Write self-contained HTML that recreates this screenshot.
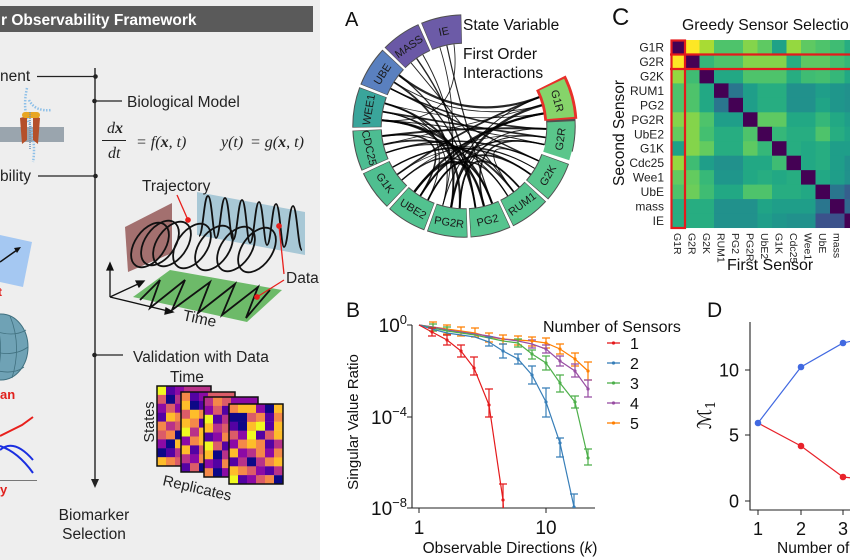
<!DOCTYPE html>
<html><head><meta charset="utf-8"><style>
html,body{margin:0;padding:0;background:#fff;}
svg{display:block;}
text{font-family:"Liberation Sans",Arial,sans-serif;}
</style></head><body>
<svg width="850" height="560" viewBox="0 0 850 560" xmlns="http://www.w3.org/2000/svg">
<defs>
<clipPath id="cb"><rect x="412" y="316" width="190" height="192"/></clipPath>
<clipPath id="cl"><rect x="0" y="0" width="320" height="560"/></clipPath>
</defs>
<rect width="850" height="560" fill="#fff"/>

<!-- ================= LEFT PANEL ================= -->
<g clip-path="url(#cl)">
<rect x="0" y="0" width="320" height="560" fill="#eeeeee"/>
<rect x="0" y="6" width="313" height="26" fill="#5a5a5a"/>
<text x="1" y="25" font-size="15.5" font-weight="bold" fill="#fff">r Observability Framework</text>

<!-- timeline -->
<line x1="95" y1="68" x2="95" y2="480" stroke="#222" stroke-width="1.4"/>
<path d="M91 479 L99 479 L95 488 Z" fill="#222"/>
<line x1="37" y1="76.5" x2="95" y2="76.5" stroke="#222" stroke-width="1.3"/>
<circle cx="95.5" cy="76.5" r="2.3" fill="#222"/>
<text x="0" y="81" font-size="15.5" fill="#222">nent</text>
<line x1="95" y1="101" x2="122" y2="101" stroke="#222" stroke-width="1.3"/>
<circle cx="94.5" cy="101" r="2.3" fill="#222"/>
<text x="127" y="107" font-size="15.5" fill="#222">Biological Model</text>
<line x1="38" y1="176" x2="95" y2="176" stroke="#222" stroke-width="1.3"/>
<circle cx="95.5" cy="176" r="2.3" fill="#222"/>
<text x="0" y="181" font-size="15.5" fill="#222">bility</text>
<line x1="95" y1="355" x2="123" y2="355" stroke="#222" stroke-width="1.3"/>
<circle cx="94.5" cy="355" r="2.3" fill="#222"/>
<text x="133" y="362" font-size="15.5" fill="#222">Validation with Data</text>
<text x="94" y="520" font-size="15.5" fill="#222" text-anchor="middle">Biomarker</text>
<text x="94" y="539" font-size="15.5" fill="#222" text-anchor="middle">Selection</text>

<!-- equation -->
<g font-style="italic" font-size="16" fill="#222">
<text x="107" y="133" style="font-family:'Liberation Serif',serif">d<tspan font-weight="bold">x</tspan></text>
<text x="108" y="158" style="font-family:'Liberation Serif',serif">dt</text>
<text x="136" y="147" style="font-family:'Liberation Serif',serif">= f(<tspan font-weight="bold">x</tspan>, t)</text>
<text x="221" y="147" style="font-family:'Liberation Serif',serif">y(t)</text>
<text x="250" y="147" style="font-family:'Liberation Serif',serif">= g(<tspan font-weight="bold">x</tspan>, t)</text>
</g>
<line x1="102" y1="140.5" x2="126" y2="140.5" stroke="#222" stroke-width="1"/>

<!-- membrane & protein -->
<rect x="0" y="127" width="64" height="15" fill="#9aa5ae"/>
<path d="M27 88 Q22 110 30 125 Q36 145 33 162" fill="none" stroke="#8ec0e8" stroke-width="2.5" stroke-dasharray="1.5 1.5"/>
<path d="M29 100 Q35 112 52 110" fill="none" stroke="#8ec0e8" stroke-width="2.5" stroke-dasharray="1.5 1.5"/>
<path d="M20 118 L27 116 L27 140 L22 144 Z" fill="#b5502a"/>
<path d="M33 116 L40 118 L38 144 L33 140 Z" fill="#b5502a"/>
<rect x="22" y="112" width="18" height="6" rx="3" fill="#e8a623"/>
<path d="M30 112 L30 150" stroke="#6a8fb5" stroke-width="1.5" stroke-dasharray="1 1"/>

<!-- blue square -->
<path d="M0 235 L32 242 L23 287 L0 282 Z" fill="#a5c8f2"/>
<line x1="0" y1="262" x2="17" y2="250" stroke="#111" stroke-width="1.5"/>
<path d="M21 247 L14 248 L17 253 Z" fill="#111"/>
<text x="-2" y="296" font-size="12" font-weight="bold" fill="#e0201c">t</text>

<!-- sphere -->
<ellipse cx="1" cy="347" rx="27" ry="33" fill="#6fa2b5" stroke="#40707f" stroke-width="1"/>
<path d="M-20 325 Q10 340 26 330 M-20 347 Q10 360 28 347 M-20 365 Q10 378 24 367 M10 316 Q22 345 12 378 M-6 314 Q6 345 -4 380" fill="none" stroke="#40707f" stroke-width="0.8"/>
<text x="0" y="399" font-size="13" font-weight="bold" fill="#e0201c">an</text>

<!-- curves -->
<path d="M0 436 L12 430 L22 425 L33 417" fill="none" stroke="#e8201c" stroke-width="2"/>
<path d="M0 450 Q14 438 33 460" fill="none" stroke="#1a2ee0" stroke-width="2"/>
<path d="M0 446 Q18 452 33 473" fill="none" stroke="#1a2ee0" stroke-width="2"/>
<line x1="0" y1="480.5" x2="37" y2="480.5" stroke="#777" stroke-width="1"/>
<text x="0" y="494" font-size="13" font-weight="bold" fill="#e0201c">y</text>

<!-- trajectory figure -->
<path d="M125 227 L172 203 L172 253 L128 272 Z" fill="#a3706f"/>
<path d="M197 192 L305 212 L305 255 L197 235 Z" fill="#a8c8d6"/>
<path d="M133 297 L170 270 L282 290 L247 322 Z" fill="#6dba69"/>
<path d="M199 236 C203 236,204 195,208 196 C212 196,213 238,216 238 C220 238,221 198,225 198 C229 198,230 240,233 240 C237 240,238 200,242 200 C246 200,247 243,250 243 C254 243,255 202,259 202 C263 202,264 245,267 245 C271 245,272 204,276 204 C280 204,281 247,284 247 C288 247,289 206,293 206 C297 206,298 250,302 250" fill="none" stroke="#111" stroke-width="1.8"/>
<polyline points="140,300 160,280 150,308 185,280 172,310 210,282 198,313 235,284 222,315 258,287 246,318 270,290" fill="none" stroke="#111" stroke-width="1.8"/>
<g fill="none" stroke="#111" stroke-width="1.8">
<ellipse cx="150" cy="245" rx="15" ry="25" transform="rotate(35 150 245)"/>
<ellipse cx="160" cy="243" rx="15" ry="25" transform="rotate(35 160 243)"/>
<ellipse cx="172" cy="244" rx="15" ry="25" transform="rotate(35 172 244)"/>
<ellipse cx="192" cy="246" rx="15" ry="25" transform="rotate(35 192 246)"/>
<ellipse cx="214" cy="248" rx="15" ry="25" transform="rotate(35 214 248)"/>
<ellipse cx="236" cy="249" rx="15" ry="25" transform="rotate(35 236 249)"/>
<ellipse cx="257" cy="250" rx="15" ry="25" transform="rotate(35 257 250)"/>
</g>
<g stroke="#111" stroke-width="1.3" fill="#111">
<line x1="110" y1="297" x2="110" y2="268"/><path d="M107 270 L113 270 L110 263 Z"/>
<line x1="110" y1="297" x2="138" y2="284"/><path d="M136 281 L139 287 L144 281 Z"/>
<line x1="110" y1="297" x2="168" y2="311"/><path d="M166 308 L165 314 L173 312 Z"/>
</g>
<text x="0" y="0" font-size="15.5" fill="#222" transform="translate(182 320) rotate(12)">Time</text>
<text x="142" y="191" font-size="15.5" fill="#222">Trajectory</text>
<text x="286" y="283" font-size="15.5" fill="#222">Data</text>
<g stroke="#e8201c" stroke-width="1.3" fill="#e8201c">
<line x1="177" y1="195" x2="188" y2="220"/><circle cx="188" cy="220" r="2.2"/>
<line x1="284" y1="274" x2="279" y2="226"/><circle cx="279" cy="226" r="2.2"/>
<line x1="284" y1="280" x2="257" y2="297"/><circle cx="257" cy="297" r="2.2"/>
</g>

<!-- heatmaps -->
<text x="170" y="382" font-size="15.5" fill="#222">Time</text>
<text x="0" y="0" font-size="14.5" fill="#222" text-anchor="middle" transform="translate(154 422) rotate(-90)">States</text>
<text x="0" y="0" font-size="15" fill="#222" transform="translate(162 485) rotate(13)">Replicates</text>

<g transform="translate(157 386)">
<rect width="54" height="80" fill="#b83289"/>
<rect x="0" y="0" width="9" height="9" fill="#f0f921"/><rect x="9" y="0" width="9" height="9" fill="#5302a3"/><rect x="18" y="0" width="9" height="9" fill="#8b0aa5"/>
<rect x="0" y="8.9" width="9" height="9" fill="#db5c68"/><rect x="9" y="8.9" width="9" height="9" fill="#0d0887"/><rect x="18" y="8.9" width="9" height="9" fill="#b83289"/>
<rect x="0" y="17.8" width="9" height="9" fill="#8b0aa5"/><rect x="9" y="17.8" width="9" height="9" fill="#db5c68"/><rect x="18" y="17.8" width="9" height="9" fill="#8b0aa5"/>
<rect x="0" y="26.7" width="9" height="9" fill="#5302a3"/><rect x="9" y="26.7" width="9" height="9" fill="#febd2a"/><rect x="18" y="26.7" width="9" height="9" fill="#f48849"/>
<rect x="0" y="35.6" width="9" height="9" fill="#f48849"/><rect x="9" y="35.6" width="9" height="9" fill="#b83289"/><rect x="18" y="35.6" width="9" height="9" fill="#db5c68"/>
<rect x="0" y="44.5" width="9" height="9" fill="#db5c68"/><rect x="9" y="44.5" width="9" height="9" fill="#f48849"/><rect x="18" y="44.5" width="9" height="9" fill="#0d0887"/>
<rect x="0" y="53.4" width="9" height="9" fill="#8b0aa5"/><rect x="9" y="53.4" width="9" height="9" fill="#0d0887"/><rect x="18" y="53.4" width="9" height="9" fill="#febd2a"/>
<rect x="0" y="62.3" width="9" height="9" fill="#0d0887"/><rect x="9" y="62.3" width="9" height="9" fill="#5302a3"/><rect x="18" y="62.3" width="9" height="9" fill="#b83289"/>
<rect x="0" y="71.2" width="9" height="8.8" fill="#febd2a"/><rect x="9" y="71.2" width="9" height="8.8" fill="#f48849"/><rect x="18" y="71.2" width="9" height="8.8" fill="#db5c68"/>
<rect width="54" height="80" fill="none" stroke="#111" stroke-width="1.5"/>
</g>

<g transform="translate(181 392)">
<rect width="54" height="80" fill="#db5c68"/>
<rect x="0" y="0" width="9" height="9" fill="#f48849"/><rect x="9" y="0" width="9" height="9" fill="#5302a3"/><rect x="18" y="0" width="9" height="9" fill="#8b0aa5"/>
<rect x="0" y="8.9" width="9" height="9" fill="#febd2a"/><rect x="9" y="8.9" width="9" height="9" fill="#0d0887"/><rect x="18" y="8.9" width="9" height="9" fill="#5302a3"/>
<rect x="0" y="17.8" width="9" height="9" fill="#db5c68"/><rect x="9" y="17.8" width="9" height="9" fill="#febd2a"/><rect x="18" y="17.8" width="9" height="9" fill="#f48849"/>
<rect x="0" y="26.7" width="9" height="9" fill="#febd2a"/><rect x="9" y="26.7" width="9" height="9" fill="#f48849"/><rect x="18" y="26.7" width="9" height="9" fill="#5302a3"/>
<rect x="0" y="35.6" width="9" height="9" fill="#f0f921"/><rect x="9" y="35.6" width="9" height="9" fill="#b83289"/><rect x="18" y="35.6" width="9" height="9" fill="#febd2a"/>
<rect x="0" y="44.5" width="9" height="9" fill="#8b0aa5"/><rect x="9" y="44.5" width="9" height="9" fill="#f48849"/><rect x="18" y="44.5" width="9" height="9" fill="#febd2a"/>
<rect x="0" y="53.4" width="9" height="9" fill="#febd2a"/><rect x="9" y="53.4" width="9" height="9" fill="#5302a3"/><rect x="18" y="53.4" width="9" height="9" fill="#db5c68"/>
<rect x="0" y="62.3" width="9" height="9" fill="#b83289"/><rect x="9" y="62.3" width="9" height="9" fill="#8b0aa5"/><rect x="18" y="62.3" width="9" height="9" fill="#f48849"/>
<rect x="0" y="71.2" width="9" height="8.8" fill="#5302a3"/><rect x="9" y="71.2" width="9" height="8.8" fill="#db5c68"/><rect x="18" y="71.2" width="9" height="8.8" fill="#0d0887"/>
<rect width="54" height="80" fill="none" stroke="#111" stroke-width="1.5"/>
</g>

<g transform="translate(204 397)">
<rect width="54" height="80" fill="#8b0aa5"/>
<rect x="0" y="0" width="9" height="9" fill="#b83289"/><rect x="9" y="0" width="9" height="9" fill="#f48849"/><rect x="18" y="0" width="9" height="9" fill="#db5c68"/>
<rect x="0" y="8.9" width="9" height="9" fill="#8b0aa5"/><rect x="9" y="8.9" width="9" height="9" fill="#db5c68"/><rect x="18" y="8.9" width="9" height="9" fill="#5302a3"/>
<rect x="0" y="17.8" width="9" height="9" fill="#f0f921"/><rect x="9" y="17.8" width="9" height="9" fill="#5302a3"/><rect x="18" y="17.8" width="9" height="9" fill="#b83289"/>
<rect x="0" y="26.7" width="9" height="9" fill="#febd2a"/><rect x="9" y="26.7" width="9" height="9" fill="#b83289"/><rect x="18" y="26.7" width="9" height="9" fill="#db5c68"/>
<rect x="0" y="35.6" width="9" height="9" fill="#5302a3"/><rect x="9" y="35.6" width="9" height="9" fill="#8b0aa5"/><rect x="18" y="35.6" width="9" height="9" fill="#f48849"/>
<rect x="0" y="44.5" width="9" height="9" fill="#f0f921"/><rect x="9" y="44.5" width="9" height="9" fill="#db5c68"/><rect x="18" y="44.5" width="9" height="9" fill="#5302a3"/>
<rect x="0" y="53.4" width="9" height="9" fill="#febd2a"/><rect x="9" y="53.4" width="9" height="9" fill="#0d0887"/><rect x="18" y="53.4" width="9" height="9" fill="#b83289"/>
<rect x="0" y="62.3" width="9" height="9" fill="#8b0aa5"/><rect x="9" y="62.3" width="9" height="9" fill="#5302a3"/><rect x="18" y="62.3" width="9" height="9" fill="#f48849"/>
<rect x="0" y="71.2" width="9" height="8.8" fill="#f48849"/><rect x="9" y="71.2" width="9" height="8.8" fill="#0d0887"/><rect x="18" y="71.2" width="9" height="8.8" fill="#8b0aa5"/>
<rect width="54" height="80" fill="none" stroke="#111" stroke-width="1.5"/>
</g>

<g transform="translate(229 404)">
<rect x="0" y="0" width="9" height="9" fill="#f48849"/><rect x="9" y="0" width="9" height="9" fill="#febd2a"/><rect x="18" y="0" width="9" height="9" fill="#febd2a"/><rect x="27" y="0" width="9" height="9" fill="#8b0aa5"/><rect x="36" y="0" width="9" height="9" fill="#0d0887"/><rect x="45" y="0" width="9" height="9" fill="#febd2a"/>
<rect x="0" y="8.9" width="9" height="9" fill="#0d0887"/><rect x="9" y="8.9" width="9" height="9" fill="#0d0887"/><rect x="18" y="8.9" width="9" height="9" fill="#db5c68"/><rect x="27" y="8.9" width="9" height="9" fill="#f48849"/><rect x="36" y="8.9" width="9" height="9" fill="#5302a3"/><rect x="45" y="8.9" width="9" height="9" fill="#f48849"/>
<rect x="0" y="17.8" width="9" height="9" fill="#5302a3"/><rect x="9" y="17.8" width="9" height="9" fill="#0d0887"/><rect x="18" y="17.8" width="9" height="9" fill="#febd2a"/><rect x="27" y="17.8" width="9" height="9" fill="#f0f921"/><rect x="36" y="17.8" width="9" height="9" fill="#5302a3"/><rect x="45" y="17.8" width="9" height="9" fill="#febd2a"/>
<rect x="0" y="26.7" width="9" height="9" fill="#db5c68"/><rect x="9" y="26.7" width="9" height="9" fill="#8b0aa5"/><rect x="18" y="26.7" width="9" height="9" fill="#f0f921"/><rect x="27" y="26.7" width="9" height="9" fill="#5302a3"/><rect x="36" y="26.7" width="9" height="9" fill="#db5c68"/><rect x="45" y="26.7" width="9" height="9" fill="#febd2a"/>
<rect x="0" y="35.6" width="9" height="9" fill="#8b0aa5"/><rect x="9" y="35.6" width="9" height="9" fill="#f48849"/><rect x="18" y="35.6" width="9" height="9" fill="#febd2a"/><rect x="27" y="35.6" width="9" height="9" fill="#f48849"/><rect x="36" y="35.6" width="9" height="9" fill="#5302a3"/><rect x="45" y="35.6" width="9" height="9" fill="#b83289"/>
<rect x="0" y="44.5" width="9" height="9" fill="#febd2a"/><rect x="9" y="44.5" width="9" height="9" fill="#8b0aa5"/><rect x="18" y="44.5" width="9" height="9" fill="#b83289"/><rect x="27" y="44.5" width="9" height="9" fill="#f48849"/><rect x="36" y="44.5" width="9" height="9" fill="#8b0aa5"/><rect x="45" y="44.5" width="9" height="9" fill="#f48849"/>
<rect x="0" y="53.4" width="9" height="9" fill="#5302a3"/><rect x="9" y="53.4" width="9" height="9" fill="#b83289"/><rect x="18" y="53.4" width="9" height="9" fill="#0d0887"/><rect x="27" y="53.4" width="9" height="9" fill="#b83289"/><rect x="36" y="53.4" width="9" height="9" fill="#f48849"/><rect x="45" y="53.4" width="9" height="9" fill="#febd2a"/>
<rect x="0" y="62.3" width="9" height="9" fill="#febd2a"/><rect x="9" y="62.3" width="9" height="9" fill="#f48849"/><rect x="18" y="62.3" width="9" height="9" fill="#db5c68"/><rect x="27" y="62.3" width="9" height="9" fill="#8b0aa5"/><rect x="36" y="62.3" width="9" height="9" fill="#5302a3"/><rect x="45" y="62.3" width="9" height="9" fill="#b83289"/>
<rect x="0" y="71.2" width="9" height="8.8" fill="#f0f921"/><rect x="9" y="71.2" width="9" height="8.8" fill="#5302a3"/><rect x="18" y="71.2" width="9" height="8.8" fill="#8b0aa5"/><rect x="27" y="71.2" width="9" height="8.8" fill="#db5c68"/><rect x="36" y="71.2" width="9" height="8.8" fill="#f48849"/><rect x="45" y="71.2" width="9" height="8.8" fill="#0d0887"/>
<rect width="54" height="80" fill="none" stroke="#111" stroke-width="1.5"/>
</g>
</g>

<!-- ================= PANEL A ================= -->
<text x="345" y="26" font-size="20" fill="#111">A</text>
<text x="463" y="30" font-size="15.5" fill="#111">State Variable</text>
<text x="463" y="59" font-size="15.5" fill="#111">First Order</text>
<text x="463" y="78" font-size="15.5" fill="#111">Interactions</text>

<g fill="none" stroke="#000" stroke-opacity="0.85" stroke-linecap="round">
<path d="M399.4 75.5Q464 126 540.6 96.6" stroke-width="2.2"/>
<path d="M394.5 82.5Q464 126 543.2 104.8" stroke-width="1"/>
<path d="M390.9 88.8Q464 126 545.9 128.9" stroke-width="1.6"/>
<path d="M385.2 103.4Q464 126 545 113.2" stroke-width="0.8"/>
<path d="M383.2 111.7Q464 126 545.2 137.4" stroke-width="1.8"/>
<path d="M382.2 120.3Q464 126 543.9 144.5" stroke-width="1"/>
<path d="M382.6 136Q464 126 545.9 128.9" stroke-width="2"/>
<path d="M384.1 144.5Q464 126 543.2 104.8" stroke-width="0.8"/>
<path d="M386.4 152.7Q464 126 538.3 160.7" stroke-width="1.5"/>
<path d="M393 167Q464 126 534.3 168.2" stroke-width="1"/>
<path d="M397.7 174.2Q464 126 540.6 96.6" stroke-width="1.8"/>
<path d="M402.1 179.8Q464 126 545.2 137.4" stroke-width="0.8"/>
<path d="M414.6 191.5Q464 126 545 113.2" stroke-width="2.2"/>
<path d="M420.5 195.5Q464 126 543.9 144.5" stroke-width="1.2"/>
<path d="M428.1 199.7Q464 126 530.3 174.2" stroke-width="1.8"/>
<path d="M442.8 205.2Q464 126 540.6 96.6" stroke-width="1"/>
<path d="M451.2 207Q464 126 543.2 104.8" stroke-width="2.4"/>
<path d="M459.7 207.9Q464 126 545.9 128.9" stroke-width="1"/>
<path d="M475.4 207.2Q464 126 385.2 103.4" stroke-width="2"/>
<path d="M483.8 205.6Q464 126 383.2 111.7" stroke-width="1"/>
<path d="M492 203.1Q464 126 382.2 120.3" stroke-width="2.2"/>
<path d="M507.5 195.5Q464 126 382.6 136" stroke-width="1"/>
<path d="M513.4 191.5Q464 126 384.1 144.5" stroke-width="1.8"/>
<path d="M518.9 186.9Q464 126 386.4 152.7" stroke-width="1"/>
<path d="M530.3 174.2Q464 126 393 167" stroke-width="1.5"/>
<path d="M534.3 168.2Q464 126 397.7 174.2" stroke-width="0.8"/>
<path d="M538.3 160.7Q464 126 390.9 88.8" stroke-width="1.4"/>
<path d="M475.4 207.2Q464 126 399.4 75.5" stroke-width="1.2"/>
<path d="M451.2 207Q464 126 394.5 82.5" stroke-width="1.8"/>
<path d="M442.8 205.2Q464 126 383.2 111.7" stroke-width="1"/>
<path d="M459.7 207.9Q464 126 382.2 120.3" stroke-width="2"/>
<path d="M492 203.1Q464 126 402.1 179.8" stroke-width="1.5"/>
<path d="M483.8 205.6Q464 126 414.6 191.5" stroke-width="2.4"/>
<path d="M507.5 195.5Q464 126 428.1 199.7" stroke-width="1.4"/>
<path d="M423 55Q464 126 451.2 207" stroke-width="1"/>
<path d="M416.9 58.8Q464 126 475.4 207.2" stroke-width="1.4"/>
<path d="M440 47.6Q464 126 442.8 205.2" stroke-width="0.9"/>
<path d="M446.9 45.8Q464 126 492 203.1" stroke-width="1.2"/>
<path d="M454 44.6Q464 126 382.2 120.3" stroke-width="0.9"/>
<path d="M411.3 63.2Q464 126 513.4 191.5" stroke-width="1"/>
<path d="M428.1 199.7Q464 126 385.2 103.4" stroke-width="1"/>
<path d="M420.5 195.5Q464 126 382.6 136" stroke-width="1.6"/>
<path d="M518.9 186.9Q464 126 459.7 207.9" stroke-width="1.8"/>
<path d="M513.4 191.5Q464 126 538.3 160.7" stroke-width="1"/>
<path d="M543.9 144.5Q464 126 483.8 205.6" stroke-width="1.6"/>
<path d="M545.2 137.4Q464 126 451.2 207" stroke-width="1"/>
<path d="M545 113.2Q464 126 420.5 195.5" stroke-width="2"/>
</g>

<g fill="none">
<g stroke="#505050" stroke-width="29.4" stroke-dasharray="35.9 573.57">
<circle cx="464" cy="126" r="97" transform="rotate(-7.9 464 126)"/>
<circle cx="464" cy="126" r="97" transform="rotate(19.9 464 126)"/>
<circle cx="464" cy="126" r="97" transform="rotate(42.65 464 126)"/>
<circle cx="464" cy="126" r="97" transform="rotate(65.4 464 126)"/>
<circle cx="464" cy="126" r="97" transform="rotate(88.15 464 126)"/>
<circle cx="464" cy="126" r="97" transform="rotate(110.9 464 126)"/>
<circle cx="464" cy="126" r="97" transform="rotate(133.65 464 126)"/>
<circle cx="464" cy="126" r="97" transform="rotate(156.4 464 126)"/>
<circle cx="464" cy="126" r="97" transform="rotate(179.15 464 126)"/>
<circle cx="464" cy="126" r="97" transform="rotate(201.9 464 126)"/>
<circle cx="464" cy="126" r="97" transform="rotate(224.65 464 126)"/>
<circle cx="464" cy="126" r="97" transform="rotate(247.4 464 126)"/>
</g>
<circle cx="464" cy="126" r="97" stroke="#e8302a" stroke-width="33" stroke-dasharray="38.5 570.97" transform="rotate(-26.4 464 126)"/>
<g stroke-width="27.4" stroke-dasharray="34.71 574.76">
<circle cx="464" cy="126" r="97" stroke="#86d46a" transform="rotate(-25.25 464 126)"/>
<circle cx="464" cy="126" r="97" stroke="#5ac68b" transform="rotate(-2.5 464 126)"/>
<circle cx="464" cy="126" r="97" stroke="#58c58c" transform="rotate(20.25 464 126)"/>
<circle cx="464" cy="126" r="97" stroke="#55c48e" transform="rotate(43 464 126)"/>
<circle cx="464" cy="126" r="97" stroke="#55c48e" transform="rotate(65.75 464 126)"/>
<circle cx="464" cy="126" r="97" stroke="#52c28f" transform="rotate(88.5 464 126)"/>
<circle cx="464" cy="126" r="97" stroke="#52c28f" transform="rotate(111.25 464 126)"/>
<circle cx="464" cy="126" r="97" stroke="#4fbf90" transform="rotate(134 464 126)"/>
<circle cx="464" cy="126" r="97" stroke="#4dbd92" transform="rotate(156.75 464 126)"/>
<circle cx="464" cy="126" r="97" stroke="#3aa59b" transform="rotate(179.5 464 126)"/>
<circle cx="464" cy="126" r="97" stroke="#5a80bf" transform="rotate(202.25 464 126)"/>
<circle cx="464" cy="126" r="97" stroke="#6a58a6" transform="rotate(225 464 126)"/>
<circle cx="464" cy="126" r="97" stroke="#6c5ba7" transform="rotate(247.75 464 126)"/>
</g>
</g>
<g font-size="11" fill="#1a1a1a" text-anchor="middle">
<text transform="translate(557.7 100.9) rotate(75)" y="4">G1R</text>
<text transform="translate(560.1 139.1) rotate(-82.25)" y="4">G2R</text>
<text transform="translate(547.6 175.3) rotate(-59.5)" y="4">G2K</text>
<text transform="translate(522 203.7) rotate(-36.75)" y="4">RUM1</text>
<text transform="translate(487.5 220.1) rotate(-14)" y="4">PG2</text>
<text transform="translate(449.2 221.9) rotate(8.75)" y="4">PG2R</text>
<text transform="translate(413.3 208.7) rotate(31.5)" y="4">UBE2</text>
<text transform="translate(385.3 182.7) rotate(54.25)" y="4">G1K</text>
<text transform="translate(369.5 147.8) rotate(77)" y="4">CDC25</text>
<text transform="translate(368.4 109.6) rotate(-80.25)" y="4">WEE1</text>
<text transform="translate(382.2 73.9) rotate(-57.5)" y="4">UBE</text>
<text transform="translate(408.7 46.3) rotate(-34.75)" y="4">MASS</text>
<text transform="translate(443.8 31.1) rotate(-12)" y="4">IE</text>
</g>

<!-- ================= PANEL C ================= -->
<text x="612" y="25" font-size="24" fill="#111">C</text>
<text x="682" y="30" font-size="15.8" fill="#111">Greedy Sensor Selection</text>
<g transform="translate(670.5 0) scale(0.96667 1) translate(-669 0)">
<g transform="translate(669 40)"><rect x="0" width="15.5" height="15" fill="#440154"/><rect x="15" width="15.5" height="15" fill="#fde725"/><rect x="30" width="15.5" height="15" fill="#a8db34"/><rect x="45" width="15.5" height="15" fill="#4ec36b"/><rect x="60" width="15.5" height="15" fill="#4ec36b"/><rect x="75" width="15.5" height="15" fill="#84d44b"/><rect x="90" width="15.5" height="15" fill="#5ec962"/><rect x="105" width="15.5" height="15" fill="#1fa287"/><rect x="120" width="15.5" height="15" fill="#95d840"/><rect x="135" width="15.5" height="15" fill="#5ec962"/><rect x="150" width="15.5" height="15" fill="#4ec36b"/><rect x="165" width="15.5" height="15" fill="#3fbc73"/><rect x="180" width="15.5" height="15" fill="#27ad81"/></g>
<g transform="translate(669 54.46)"><rect x="0" width="15.5" height="15" fill="#fde725"/><rect x="15" width="15.5" height="15" fill="#440154"/><rect x="30" width="15.5" height="15" fill="#35b779"/><rect x="45" width="15.5" height="15" fill="#4ec36b"/><rect x="60" width="15.5" height="15" fill="#4ec36b"/><rect x="75" width="15.5" height="15" fill="#84d44b"/><rect x="90" width="15.5" height="15" fill="#84d44b"/><rect x="105" width="15.5" height="15" fill="#84d44b"/><rect x="120" width="15.5" height="15" fill="#27ad81"/><rect x="135" width="15.5" height="15" fill="#5ec962"/><rect x="150" width="15.5" height="15" fill="#5ec962"/><rect x="165" width="15.5" height="15" fill="#44bf70"/><rect x="180" width="15.5" height="15" fill="#35b779"/></g>
<g transform="translate(669 68.92)"><rect x="0" width="15.5" height="15" fill="#95d840"/><rect x="15" width="15.5" height="15" fill="#3fbc73"/><rect x="30" width="15.5" height="15" fill="#440154"/><rect x="45" width="15.5" height="15" fill="#22a884"/><rect x="60" width="15.5" height="15" fill="#22a884"/><rect x="75" width="15.5" height="15" fill="#4ec36b"/><rect x="90" width="15.5" height="15" fill="#4ec36b"/><rect x="105" width="15.5" height="15" fill="#4ec36b"/><rect x="120" width="15.5" height="15" fill="#27ad81"/><rect x="135" width="15.5" height="15" fill="#3fbc73"/><rect x="150" width="15.5" height="15" fill="#44bf70"/><rect x="165" width="15.5" height="15" fill="#35b779"/><rect x="180" width="15.5" height="15" fill="#22a884"/></g>
<g transform="translate(669 83.38)"><rect x="0" width="15.5" height="15" fill="#4ec36b"/><rect x="15" width="15.5" height="15" fill="#4ec36b"/><rect x="30" width="15.5" height="15" fill="#22a884"/><rect x="45" width="15.5" height="15" fill="#440154"/><rect x="60" width="15.5" height="15" fill="#2a768e"/><rect x="75" width="15.5" height="15" fill="#1f9e89"/><rect x="90" width="15.5" height="15" fill="#27ad81"/><rect x="105" width="15.5" height="15" fill="#27ad81"/><rect x="120" width="15.5" height="15" fill="#21918c"/><rect x="135" width="15.5" height="15" fill="#21918c"/><rect x="150" width="15.5" height="15" fill="#1f9e89"/><rect x="165" width="15.5" height="15" fill="#1f968b"/><rect x="180" width="15.5" height="15" fill="#21918c"/></g>
<g transform="translate(669 97.84)"><rect x="0" width="15.5" height="15" fill="#4ec36b"/><rect x="15" width="15.5" height="15" fill="#4ec36b"/><rect x="30" width="15.5" height="15" fill="#22a884"/><rect x="45" width="15.5" height="15" fill="#2a768e"/><rect x="60" width="15.5" height="15" fill="#440154"/><rect x="75" width="15.5" height="15" fill="#1f9e89"/><rect x="90" width="15.5" height="15" fill="#27ad81"/><rect x="105" width="15.5" height="15" fill="#27ad81"/><rect x="120" width="15.5" height="15" fill="#21918c"/><rect x="135" width="15.5" height="15" fill="#21918c"/><rect x="150" width="15.5" height="15" fill="#20a486"/><rect x="165" width="15.5" height="15" fill="#1f968b"/><rect x="180" width="15.5" height="15" fill="#21918c"/></g>
<g transform="translate(669 112.3)"><rect x="0" width="15.5" height="15" fill="#84d44b"/><rect x="15" width="15.5" height="15" fill="#84d44b"/><rect x="30" width="15.5" height="15" fill="#4ec36b"/><rect x="45" width="15.5" height="15" fill="#1f9e89"/><rect x="60" width="15.5" height="15" fill="#1f9e89"/><rect x="75" width="15.5" height="15" fill="#440154"/><rect x="90" width="15.5" height="15" fill="#5ec962"/><rect x="105" width="15.5" height="15" fill="#5ec962"/><rect x="120" width="15.5" height="15" fill="#22a884"/><rect x="135" width="15.5" height="15" fill="#22a884"/><rect x="150" width="15.5" height="15" fill="#35b779"/><rect x="165" width="15.5" height="15" fill="#22a884"/><rect x="180" width="15.5" height="15" fill="#1f9e89"/></g>
<g transform="translate(669 126.76)"><rect x="0" width="15.5" height="15" fill="#63cb5f"/><rect x="15" width="15.5" height="15" fill="#84d44b"/><rect x="30" width="15.5" height="15" fill="#44bf70"/><rect x="45" width="15.5" height="15" fill="#27ad81"/><rect x="60" width="15.5" height="15" fill="#27ad81"/><rect x="75" width="15.5" height="15" fill="#4ec36b"/><rect x="90" width="15.5" height="15" fill="#440154"/><rect x="105" width="15.5" height="15" fill="#35b779"/><rect x="120" width="15.5" height="15" fill="#27ad81"/><rect x="135" width="15.5" height="15" fill="#27ad81"/><rect x="150" width="15.5" height="15" fill="#4ec36b"/><rect x="165" width="15.5" height="15" fill="#27ad81"/><rect x="180" width="15.5" height="15" fill="#20a486"/></g>
<g transform="translate(669 141.22)"><rect x="0" width="15.5" height="15" fill="#1fa287"/><rect x="15" width="15.5" height="15" fill="#84d44b"/><rect x="30" width="15.5" height="15" fill="#63cb5f"/><rect x="45" width="15.5" height="15" fill="#27ad81"/><rect x="60" width="15.5" height="15" fill="#27ad81"/><rect x="75" width="15.5" height="15" fill="#5ec962"/><rect x="90" width="15.5" height="15" fill="#35b779"/><rect x="105" width="15.5" height="15" fill="#440154"/><rect x="120" width="15.5" height="15" fill="#27ad81"/><rect x="135" width="15.5" height="15" fill="#22a884"/><rect x="150" width="15.5" height="15" fill="#27ad81"/><rect x="165" width="15.5" height="15" fill="#1f9e89"/><rect x="180" width="15.5" height="15" fill="#1f9e89"/></g>
<g transform="translate(669 155.68)"><rect x="0" width="15.5" height="15" fill="#95d840"/><rect x="15" width="15.5" height="15" fill="#3fbc73"/><rect x="30" width="15.5" height="15" fill="#1f9e89"/><rect x="45" width="15.5" height="15" fill="#21918c"/><rect x="60" width="15.5" height="15" fill="#21918c"/><rect x="75" width="15.5" height="15" fill="#22a884"/><rect x="90" width="15.5" height="15" fill="#22a884"/><rect x="105" width="15.5" height="15" fill="#3fbc73"/><rect x="120" width="15.5" height="15" fill="#440154"/><rect x="135" width="15.5" height="15" fill="#22a884"/><rect x="150" width="15.5" height="15" fill="#27ad81"/><rect x="165" width="15.5" height="15" fill="#1f9e89"/><rect x="180" width="15.5" height="15" fill="#21918c"/></g>
<g transform="translate(669 170.14)"><rect x="0" width="15.5" height="15" fill="#63cb5f"/><rect x="15" width="15.5" height="15" fill="#63cb5f"/><rect x="30" width="15.5" height="15" fill="#37b878"/><rect x="45" width="15.5" height="15" fill="#1f968b"/><rect x="60" width="15.5" height="15" fill="#1f968b"/><rect x="75" width="15.5" height="15" fill="#22a884"/><rect x="90" width="15.5" height="15" fill="#27ad81"/><rect x="105" width="15.5" height="15" fill="#22a884"/><rect x="120" width="15.5" height="15" fill="#27ad81"/><rect x="135" width="15.5" height="15" fill="#440154"/><rect x="150" width="15.5" height="15" fill="#22a884"/><rect x="165" width="15.5" height="15" fill="#1f9e89"/><rect x="180" width="15.5" height="15" fill="#21918c"/></g>
<g transform="translate(669 184.6)"><rect x="0" width="15.5" height="15" fill="#4ec36b"/><rect x="15" width="15.5" height="15" fill="#6ccd5a"/><rect x="30" width="15.5" height="15" fill="#3fbc73"/><rect x="45" width="15.5" height="15" fill="#22a884"/><rect x="60" width="15.5" height="15" fill="#22a884"/><rect x="75" width="15.5" height="15" fill="#4ec36b"/><rect x="90" width="15.5" height="15" fill="#4ec36b"/><rect x="105" width="15.5" height="15" fill="#27ad81"/><rect x="120" width="15.5" height="15" fill="#27ad81"/><rect x="135" width="15.5" height="15" fill="#22a884"/><rect x="150" width="15.5" height="15" fill="#440154"/><rect x="165" width="15.5" height="15" fill="#2a768e"/><rect x="180" width="15.5" height="15" fill="#355f8d"/></g>
<g transform="translate(669 199.06)"><rect x="0" width="15.5" height="15" fill="#27ad81"/><rect x="15" width="15.5" height="15" fill="#27ad81"/><rect x="30" width="15.5" height="15" fill="#27ad81"/><rect x="45" width="15.5" height="15" fill="#21918c"/><rect x="60" width="15.5" height="15" fill="#21918c"/><rect x="75" width="15.5" height="15" fill="#21918c"/><rect x="90" width="15.5" height="15" fill="#20a486"/><rect x="105" width="15.5" height="15" fill="#1f9e89"/><rect x="120" width="15.5" height="15" fill="#1f9e89"/><rect x="135" width="15.5" height="15" fill="#1f9e89"/><rect x="150" width="15.5" height="15" fill="#2a768e"/><rect x="165" width="15.5" height="15" fill="#440154"/><rect x="180" width="15.5" height="15" fill="#31688e"/></g>
<g transform="translate(669 213.52)"><rect x="0" width="15.5" height="14.5" fill="#27ad81"/><rect x="15" width="15.5" height="14.5" fill="#27ad81"/><rect x="30" width="15.5" height="14.5" fill="#27ad81"/><rect x="45" width="15.5" height="14.5" fill="#21918c"/><rect x="60" width="15.5" height="14.5" fill="#21918c"/><rect x="75" width="15.5" height="14.5" fill="#21918c"/><rect x="90" width="15.5" height="14.5" fill="#1f9e89"/><rect x="105" width="15.5" height="14.5" fill="#1f968b"/><rect x="120" width="15.5" height="14.5" fill="#21918c"/><rect x="135" width="15.5" height="14.5" fill="#21918c"/><rect x="150" width="15.5" height="14.5" fill="#3b528b"/><rect x="165" width="15.5" height="14.5" fill="#3b528b"/><rect x="180" width="15.5" height="14.5" fill="#440154"/></g>
</g>
<rect x="671.5" y="40.5" width="13.5" height="187.5" fill="none" stroke="#e41a1c" stroke-width="2.2"/>
<line x1="670" y1="54.5" x2="850" y2="54.5" stroke="#e41a1c" stroke-width="2.2"/>
<line x1="670" y1="69" x2="850" y2="69" stroke="#e41a1c" stroke-width="2.2"/>
<g font-size="12" fill="#222" text-anchor="end">
<text x="664" y="51.5">G1R</text><text x="664" y="66">G2R</text><text x="664" y="80.5">G2K</text><text x="664" y="94.9">RUM1</text><text x="664" y="109.4">PG2</text><text x="664" y="123.8">PG2R</text><text x="664" y="138.3">UbE2</text><text x="664" y="152.7">G1K</text><text x="664" y="167.2">Cdc25</text><text x="664" y="181.7">Wee1</text><text x="664" y="196.1">UbE</text><text x="664" y="210.6">mass</text><text x="664" y="225">IE</text>
</g>
<g font-size="10.5" fill="#222">
<text transform="translate(674 233) rotate(90)">G1R</text>
<text transform="translate(688.5 233) rotate(90)">G2R</text>
<text transform="translate(703 233) rotate(90)">G2K</text>
<text transform="translate(717.5 233) rotate(90)">RUM1</text>
<text transform="translate(732 233) rotate(90)">PG2</text>
<text transform="translate(746.5 233) rotate(90)">PG2R</text>
<text transform="translate(761 233) rotate(90)">UbE2</text>
<text transform="translate(775.5 233) rotate(90)">G1K</text>
<text transform="translate(790 233) rotate(90)">Cdc25</text>
<text transform="translate(804.5 233) rotate(90)">Wee1</text>
<text transform="translate(819 233) rotate(90)">UbE</text>
<text transform="translate(833.5 233) rotate(90)">mass</text>
</g>
<text transform="translate(624 133) rotate(-90)" font-size="15.5" fill="#111" text-anchor="middle">Second Sensor</text>
<text x="727" y="270" font-size="16" fill="#111">First Sensor</text>

<!-- ================= PANEL B ================= -->
<text x="346" y="317" font-size="21" fill="#111">B</text>
<line x1="412" y1="325" x2="412" y2="508.5" stroke="#222" stroke-width="1.1"/>
<line x1="411.5" y1="508" x2="595" y2="508" stroke="#222" stroke-width="1.1"/>
<g stroke="#222" stroke-width="1">
<line x1="407" y1="325" x2="412" y2="325"/><line x1="407" y1="417" x2="412" y2="417"/><line x1="407" y1="508" x2="412" y2="508"/>
<line x1="419" y1="508" x2="419" y2="513"/><line x1="546" y1="508" x2="546" y2="513"/>
</g>
<g font-size="19" fill="#111" text-anchor="end">
<text x="407" y="332">10<tspan font-size="13" dy="-8">0</tspan></text>
<text x="407" y="424">10<tspan font-size="13" dy="-8">−4</tspan></text>
<text x="407" y="515">10<tspan font-size="13" dy="-8">−8</tspan></text>
</g>
<g font-size="19" fill="#111" text-anchor="middle">
<text x="419" y="534">1</text><text x="546" y="534">10</text>
</g>
<text x="510" y="553" font-size="15.5" fill="#111" text-anchor="middle">Observable Directions (<tspan font-style="italic">k</tspan>)</text>
<text transform="translate(358 422) rotate(-90)" font-size="15" fill="#111" text-anchor="middle">Singular Value Ratio</text>

<g clip-path="url(#cb)" fill="none" stroke-width="1.2">
<g stroke="#ff7f00">
<polyline points="419,325 433,327 447,329 461,331 475,333 489,337 503,339 518,340 532,341 546,343 560,349 575,359 588,371"/>
<path d="M433 322V331M429 322H437M429 331H437M447 325V334M443 325H451M443 334H451M461 327V336M457 327H465M457 336H465M475 328V337M471 328H479M471 337H479M489 333V342M485 333H493M485 342H493M503 335V344M499 335H507M499 344H507M518 336V345M514 336H522M514 345H522M532 337V346M528 337H536M528 346H536M546 338V348M542 338H550M542 348H550M560 344V354M556 344H564M556 354H564M575 353V366M571 353H579M571 366H579M588 362V380M584 362H592M584 380H592"/>
</g>
<g stroke="#984ea3">
<polyline points="419,325 433,327 447,330 461,332 475,334 489,336 503,339 518,341 532,344 546,349 560,361 575,371 588,389"/>
<path d="M532 340V348M528 340H536M528 348H536M546 345V353M542 345H550M542 353H550M560 356V366M556 356H564M556 366H564M575 364V377M571 364H579M571 377H579M588 380V397M584 380H592M584 397H592"/>
</g>
<g stroke="#4daf4a">
<polyline points="419,325 433,328 447,331 461,333 475,335 489,338 503,341 518,343 532,354 546,363 560,383 575,402 588,458"/>
<path d="M433 324V331M429 324H437M429 331H437M447 327V335M443 327H451M443 335H451M518 339V347M514 339H522M514 347H522M532 350V359M528 350H536M528 359H536M546 356V370M542 356H550M542 370H550M560 375V392M556 375H564M556 392H564M575 396V408M571 396H579M571 408H579M588 449V465M584 449H592M584 465H592"/>
</g>
<g stroke="#377eb8">
<polyline points="419,325 432,329 447,333 461,335 475,337 489,342 503,351 518,359 532,375 546,402 560,443 574,507 577,530"/>
<path d="M489 337V346M485 337H493M485 346H493M503 344V358M499 344H507M499 358H507M518 354V364M514 354H522M514 364H522M532 366V384M528 366H536M528 384H536M546 388V417M542 388H550M542 417H550M560 438V457M556 438H564M556 457H564M574 494V508M570 494H578"/>
</g>
<g stroke="#e41a1c">
<polyline points="419,325 432,332 447,340 461,351 474,368 489,405 503,500 505,540"/>
<path d="M432 328V336M428 328H436M428 336H436M447 335V345M443 335H451M443 345H451M461 345V357M457 345H465M457 357H465M474 357V375M470 357H478M470 375H478M489 389V417M485 389H493M485 417H493M503 484V508M499 484H507"/>
</g>
</g>
<g clip-path="url(#cb)">
<g fill="#ff7f00"><circle cx="546" cy="343" r="1.6"/><circle cx="560" cy="349" r="1.6"/><circle cx="575" cy="359" r="1.6"/><circle cx="588" cy="371" r="1.6"/><circle cx="532" cy="341" r="1.6"/><circle cx="503" cy="339" r="1.6"/></g>
<g fill="#984ea3"><circle cx="546" cy="349" r="1.6"/><circle cx="560" cy="361" r="1.6"/><circle cx="575" cy="371" r="1.6"/><circle cx="588" cy="389" r="1.6"/></g>
<g fill="#4daf4a"><circle cx="532" cy="354" r="1.6"/><circle cx="546" cy="363" r="1.6"/><circle cx="560" cy="383" r="1.6"/><circle cx="575" cy="402" r="1.6"/><circle cx="588" cy="458" r="1.6"/></g>
<g fill="#377eb8"><circle cx="503" cy="351" r="1.6"/><circle cx="518" cy="359" r="1.6"/><circle cx="532" cy="375" r="1.6"/><circle cx="546" cy="402" r="1.6"/><circle cx="560" cy="443" r="1.6"/><circle cx="574" cy="507" r="1.6"/></g>
<g fill="#e41a1c"><circle cx="432" cy="332" r="1.6"/><circle cx="447" cy="340" r="1.6"/><circle cx="461" cy="351" r="1.6"/><circle cx="474" cy="368" r="1.6"/><circle cx="489" cy="405" r="1.6"/><circle cx="503" cy="500" r="1.6"/></g>
</g>

<!-- legend B -->
<text x="543" y="332" font-size="16" fill="#111">Number of Sensors</text>
<g stroke-width="1.3">
<line x1="607" y1="343" x2="620" y2="343" stroke="#e41a1c"/><circle cx="613.5" cy="343" r="1.6" fill="#e41a1c"/>
<line x1="607" y1="363" x2="620" y2="363" stroke="#377eb8"/><circle cx="613.5" cy="363" r="1.6" fill="#377eb8"/>
<line x1="607" y1="383" x2="620" y2="383" stroke="#4daf4a"/><circle cx="613.5" cy="383" r="1.6" fill="#4daf4a"/>
<line x1="607" y1="403" x2="620" y2="403" stroke="#984ea3"/><circle cx="613.5" cy="403" r="1.6" fill="#984ea3"/>
<line x1="607" y1="423" x2="620" y2="423" stroke="#ff7f00"/><circle cx="613.5" cy="423" r="1.6" fill="#ff7f00"/>
</g>
<g font-size="16" fill="#111">
<text x="630" y="349">1</text><text x="630" y="369">2</text><text x="630" y="389">3</text><text x="630" y="409">4</text><text x="630" y="429">5</text>
</g>

<!-- ================= PANEL D ================= -->
<text x="707" y="317" font-size="21" fill="#111">D</text>
<line x1="750" y1="322" x2="750" y2="510.5" stroke="#222" stroke-width="1.1"/>
<line x1="749.5" y1="510" x2="850" y2="510" stroke="#222" stroke-width="1.1"/>
<g stroke="#222" stroke-width="1">
<line x1="745" y1="370" x2="750" y2="370"/><line x1="745" y1="435" x2="750" y2="435"/><line x1="745" y1="501" x2="750" y2="501"/>
<line x1="758" y1="510" x2="758" y2="515"/><line x1="801" y1="510" x2="801" y2="515"/><line x1="843" y1="510" x2="843" y2="515"/>
</g>
<g font-size="18" fill="#111" text-anchor="end">
<text x="739" y="376.5">10</text><text x="739" y="441.5">5</text><text x="739" y="507.5">0</text>
</g>
<g font-size="18" fill="#111" text-anchor="middle">
<text x="758" y="535">1</text><text x="801" y="535">2</text><text x="843" y="535">3</text>
</g>
<text x="777" y="553" font-size="15.5" fill="#111">Number of</text>
<text transform="translate(711 415) rotate(-90)" font-size="19" fill="#111" text-anchor="middle" style="font-family:'DejaVu Serif','Liberation Serif',serif">ℳ<tspan font-size="13" dy="4">1</tspan></text>
<polyline points="758,423 801,446 843,477 852,478" fill="none" stroke="#e8222a" stroke-width="1.2"/>
<polyline points="758,423 801,367 843,343 852,341" fill="none" stroke="#4169e1" stroke-width="1.2"/>
<g fill="#e8222a"><circle cx="801" cy="446" r="3.3"/><circle cx="843" cy="477" r="3.3"/></g>
<g fill="#4169e1"><circle cx="758" cy="423" r="3.3"/><circle cx="801" cy="367" r="3.3"/><circle cx="843" cy="343" r="3.3"/></g>
</svg>
</body></html>
